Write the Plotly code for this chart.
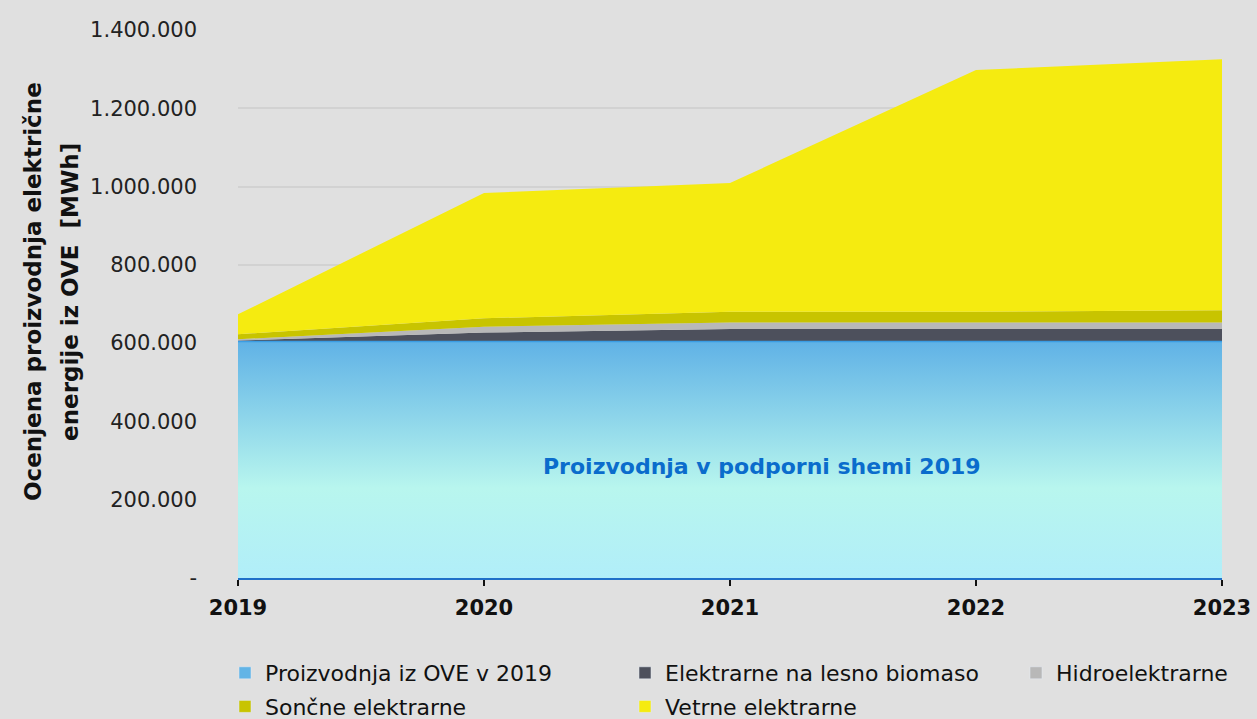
import plotly.graph_objects as go

# estimated production [MWh]
years = [2019, 2020, 2021, 2022, 2023]
base_2019 = [604000, 604000, 604000, 604000, 604000]
biomass = [2500, 23000, 32000, 32000, 32000]
hydro = [3500, 15000, 17000, 17000, 17000]
solar = [12800, 21500, 27000, 27000, 31000]
wind = [51000, 320000, 329000, 618000, 641000]

series_names = [
    "Proizvodnja iz OVE v 2019",
    "Elektrarne na lesno biomaso",
    "Hidroelektrarne",
    "Sončne elektrarne",
    "Vetrne elektrarne",
]
series_colors = ["#62b4e6", "#4d505c", "#b8b8b8", "#c8c400", "#f5eb10"]
# which legend column each series sits in (as in the reference)
legend_cols = ["legend", "legend2", "legend3", "legend", "legend2"]

ytick_vals = [0, 200000, 400000, 600000, 800000, 1000000, 1200000, 1400000]
ytick_text = ["-", "200.000", "400.000", "600.000", "800.000",
              "1.000.000", "1.200.000", "1.400.000"]
ytitle_lines = ["Ocenjena proizvodnja električne", "energije iz OVE  [MWh]"]

FONT = "DejaVu Sans"

fig = go.Figure()

# stacked areas
fig.add_trace(go.Scatter(
    x=years, y=base_2019, name=series_names[0], showlegend=False,
    mode="lines", stackgroup="one",
    line=dict(color="#3a9de4", width=1.5),
    fillgradient=dict(
        type="vertical",
        colorscale=[[0, "#b1eef9"], [0.38, "#b8f6ee"], [1, "#60b2e6"]],
    ),
))
for name, vals, col in zip(series_names[1:], [biomass, hydro, solar, wind],
                           series_colors[1:]):
    fig.add_trace(go.Scatter(
        x=years, y=vals, name=name, showlegend=False,
        mode="lines", stackgroup="one",
        line=dict(color=col, width=0),
        fillcolor=col,
    ))

# legend-only entries so the legend shows square swatches
for i, (name, col, lg) in enumerate(zip(series_names, series_colors, legend_cols)):
    fig.add_trace(go.Bar(
        x=[years[0]], y=[None], name=name, marker_color=col,
        legend=lg, legendgroup=f"g{i}",
    ))

fig.add_annotation(
    x=2021.13, y=284000, text="<b>Proizvodnja v podporni shemi 2019</b>",
    showarrow=False, font=dict(family=FONT, size=22, color="#0a6ccc"),
)

# y axis title, two rotated lines
for line, px in zip(ytitle_lines, [33, 70]):
    fig.add_annotation(
        xref="paper", yref="paper", x=(px - 238) / 984, y=0.522,
        xanchor="center", yanchor="middle", textangle=-90,
        text=f"<b>{line}</b>", showarrow=False,
        font=dict(family=FONT, size=23, color="#111"),
    )

fig.update_xaxes(
    range=[2019, 2023], tickvals=years, ticktext=[f"<b>{y}</b>" for y in years],
    showgrid=False, showline=True, linecolor="#1f6fc8", linewidth=2,
    ticks="outside", tickcolor="#111", ticklen=6, tickwidth=2,
    ticklabelstandoff=4,
    tickfont=dict(family=FONT, size=21, color="#111"),
    zeroline=False,
)
fig.update_yaxes(
    range=[0, 1400000], tickvals=ytick_vals, ticktext=ytick_text,
    showgrid=True, gridcolor="#d2d2d2", gridwidth=1.5,
    zeroline=False, ticks="", ticklabelstandoff=40,
    tickfont=dict(family=FONT, size=21, color="#222"),
)

legend_style = dict(
    orientation="v", xref="container", yref="container",
    xanchor="left", yanchor="top", y=1 - 652 / 719,
    font=dict(family=FONT, size=22, color="#111"),
    bgcolor="rgba(0,0,0,0)", itemwidth=30, tracegroupgap=2,
)

fig.update_layout(
    width=1257, height=719,
    margin=dict(l=238, r=35, t=30, b=141, autoexpand=False),
    paper_bgcolor="#e0e0e0", plot_bgcolor="#e0e0e0",
    showlegend=True,
    legend=dict(legend_style, x=225 / 1257),
    legend2=dict(legend_style, x=625 / 1257),
    legend3=dict(legend_style, x=1016 / 1257),
)

fig.write_html(
    "out.html",
    config={"displayModeBar": False},
    post_script="document.body.style.margin='0';",
)
